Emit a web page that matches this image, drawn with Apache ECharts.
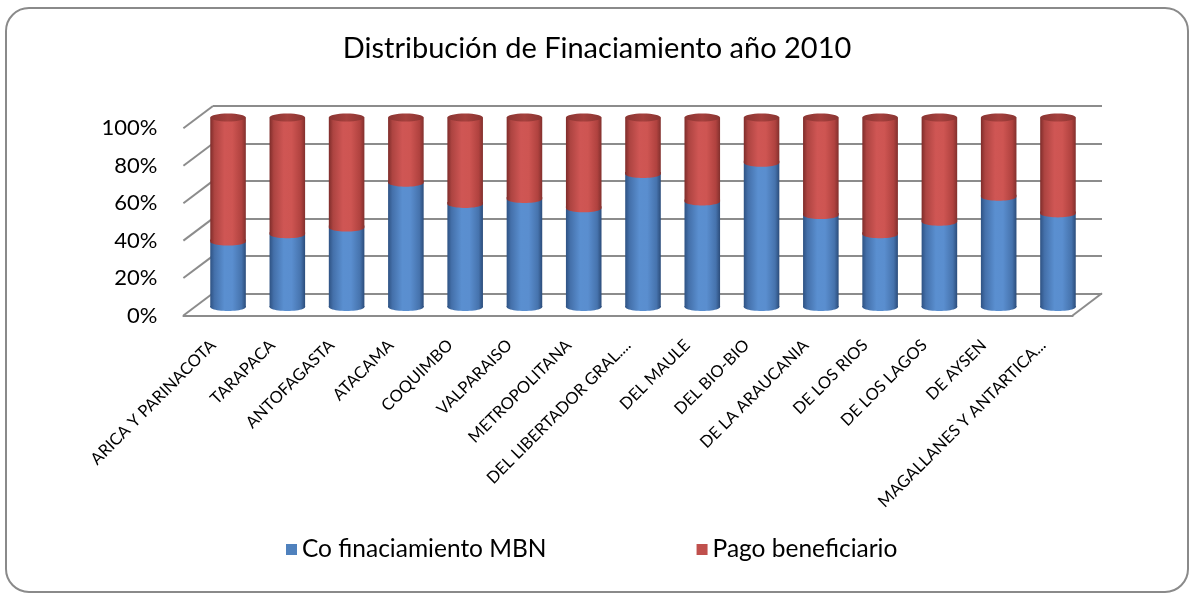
<!DOCTYPE html>
<html>
<head>
<meta charset="utf-8">
<script src="https://cdn.jsdelivr.net/npm/echarts@6/dist/echarts.min.js"></script>
<style>
html,body{margin:0;padding:0;background:#fff;}
#wrap{position:relative;width:1194px;height:596px;}
#chart{position:absolute;left:0;top:0;width:1194px;height:596px;}
#frame{position:absolute;left:5px;top:7px;width:1180px;height:582px;border:2px solid #8a8a8a;border-radius:24px;pointer-events:none;}
</style>
</head>
<body>
<div id="wrap"><div id="chart"></div><div id="frame"></div></div>
<script>
const titleText = 'Distribución de Finaciamiento año 2010';
const categories = ['ARICA Y PARINACOTA','TARAPACA','ANTOFAGASTA','ATACAMA','COQUIMBO','VALPARAISO','METROPOLITANA','DEL LIBERTADOR GRAL....','DEL MAULE','DEL BIO-BIO','DE LA ARAUCANIA','DE LOS RIOS','DE LOS LAGOS','DE AYSEN','MAGALLANES Y ANTARTICA...'];
const seriesNames = ['Co finaciamiento MBN','Pago beneficiario'];
const coFinanciamiento = [34.5, 38.4, 41.9, 65.6, 54.4, 57.0, 52.1, 70.2, 55.7, 76.1, 48.5, 38.4, 45.0, 58.2, 49.4];
const pagoBeneficiario = [65.5, 61.6, 58.1, 34.4, 45.6, 43.0, 47.9, 29.8, 44.3, 23.9, 51.5, 61.6, 55.0, 41.8, 50.6];
const yTicks = [0, 20, 40, 60, 80, 100];

const FONT = 'Lato';
const blueGrad = {type:'linear',x:0,y:0,x2:1,y2:0,colorStops:[
  {offset:0,color:'#2e5283'},{offset:0.12,color:'#4470aa'},{offset:0.4,color:'#5a8fd0'},
  {offset:0.62,color:'#5a8ecf'},{offset:0.88,color:'#4673ad'},{offset:1,color:'#2b4c7a'}]};
const redGrad = {type:'linear',x:0,y:0,x2:1,y2:0,colorStops:[
  {offset:0,color:'#7e2c2a'},{offset:0.12,color:'#ad4441'},{offset:0.4,color:'#cf5654'},
  {offset:0.62,color:'#ce5552'},{offset:0.88,color:'#b0423f'},{offset:1,color:'#82302d'}]};
const topGrad = {type:'linear',x:0,y:0,x2:1,y2:0,colorStops:[
  {offset:0,color:'#8a3532'},{offset:0.5,color:'#a5403d'},{offset:1,color:'#8a3532'}]};

const chart = echarts.init(document.getElementById('chart'), null, {renderer:'canvas'});

function halfEllipse(cx, cy, rx, ry, lift){
  const pts = [[cx + rx, cy - lift]];
  for (let k = 0; k <= 24; k++) {
    const a = Math.PI * k / 24;
    pts.push([cx + rx * Math.cos(a), cy + ry * Math.sin(a)]);
  }
  pts.push([cx - rx, cy - lift]);
  return pts;
}

const option = {
  backgroundColor: '#ffffff',
  animation: false,
  title: {text: titleText, left: 'center', top: 29,
    textStyle:{fontFamily: FONT, fontSize: 29, fontWeight:'normal', color:'#000'}},
  legend: {
    data: [
      {name: seriesNames[0], itemStyle:{color:'#4f81bd'}},
      {name: seriesNames[1], itemStyle:{color:'#c0504d'}}
    ],
    left: 281, top: 532, itemWidth: 11, itemHeight: 11, itemGap: 150,
    icon: 'rect',
    textStyle: {fontFamily: FONT, fontSize: 24.5, color:'#000'}
  },
  grid: [
    {left: 213, right: 92, top: 106, bottom: 302.7},
    {left: 198.4, right: 106.4, top: 117.5, bottom: 289},
    {left: 183.4, right: 121.4, top: 128.3, bottom: 280.5}
  ],
  xAxis: [
    {gridIndex:0, type:'category', data: categories, show:false},
    {gridIndex:1, type:'category', data: categories, show:false},
    {gridIndex:2, type:'category', data: categories,
      axisLine:{show:true, lineStyle:{color:'#8c8c8c', width:2}},
      axisTick:{show:false},
      axisLabel:{rotate:45, margin:27, interval:0, fontFamily: FONT, fontSize: 16.5, color:'#000'}}
  ],
  yAxis: [
    {gridIndex:0, type:'value', min:0, max:100, interval:20,
      axisLine:{show:false}, axisTick:{show:false}, axisLabel:{show:false},
      splitLine:{show:true, lineStyle:{color:'#8c8c8c', width:2}}},
    {gridIndex:1, type:'value', min:0, max:100, interval:20, show:false, splitLine:{show:false}},
    {gridIndex:2, type:'value', min:0, max:100, interval:20,
      axisLine:{show:false}, axisTick:{show:false}, splitLine:{show:false},
      axisLabel:{formatter:'{value}%', margin:26, fontFamily: FONT, fontSize: 22, color:'#000'}}
  ],
  series: [
    {name: seriesNames[0], type:'bar', stack:'total', xAxisIndex:1, yAxisIndex:1,
      data: coFinanciamiento, barWidth:'60%', itemStyle:{color: blueGrad}, z:3},
    {name: seriesNames[1], type:'bar', stack:'total', xAxisIndex:1, yAxisIndex:1,
      data: pagoBeneficiario, barWidth:'60%', itemStyle:{color: redGrad}, z:3},
    {name: 'caps', type:'custom', xAxisIndex:1, yAxisIndex:1, z:4, silent:true,
      data: categories.map((c,i)=>[i, coFinanciamiento[i], coFinanciamiento[i] + pagoBeneficiario[i]]),
      renderItem: function(params, api){
        const i = api.value(0);
        const bottom = api.coord([i, 0]);
        const mid = api.coord([i, api.value(1)]);
        const top = api.coord([i, api.value(2)]);
        const w = api.size([1, 0])[0] * 0.6;
        const rx = w / 2, ry = 4;
        return {type:'group', children:[
          {type:'polygon', shape:{points: halfEllipse(bottom[0], bottom[1], rx, ry, 1)}, style:{fill: blueGrad}},
          {type:'polygon', shape:{points: halfEllipse(mid[0], mid[1], rx, ry, 2)}, style:{fill: redGrad}},
          {type:'ellipse', shape:{cx: top[0], cy: top[1], rx: rx, ry: ry}, style:{fill: topGrad}}
        ]};
      }
    }
  ],
  color: ['#4f81bd', '#c0504d']
};
chart.setOption(option);

// 3D wall connectors derived from the axes
const frontRect = chart.getModel().getComponent('grid', 2).coordinateSystem.getRect();
const backRect = chart.getModel().getComponent('grid', 0).coordinateSystem.getRect();
const graphics = [];
yTicks.forEach(v => {
  const yf = chart.convertToPixel({yAxisIndex: 2}, v);
  const yb = chart.convertToPixel({yAxisIndex: 0}, v);
  graphics.push({type:'line', shape:{x1: frontRect.x, y1: yf, x2: backRect.x, y2: yb},
    style:{stroke:'#8c8c8c', lineWidth:2}, z: 1});
});
const yf0 = chart.convertToPixel({yAxisIndex: 2}, 0);
const yb0 = chart.convertToPixel({yAxisIndex: 0}, 0);
graphics.push({type:'line', shape:{x1: frontRect.x + frontRect.width, y1: yf0, x2: backRect.x + backRect.width, y2: yb0},
  style:{stroke:'#8c8c8c', lineWidth:2}, z: 1});
chart.setOption({graphic: graphics});
</script>
</body>
</html>
